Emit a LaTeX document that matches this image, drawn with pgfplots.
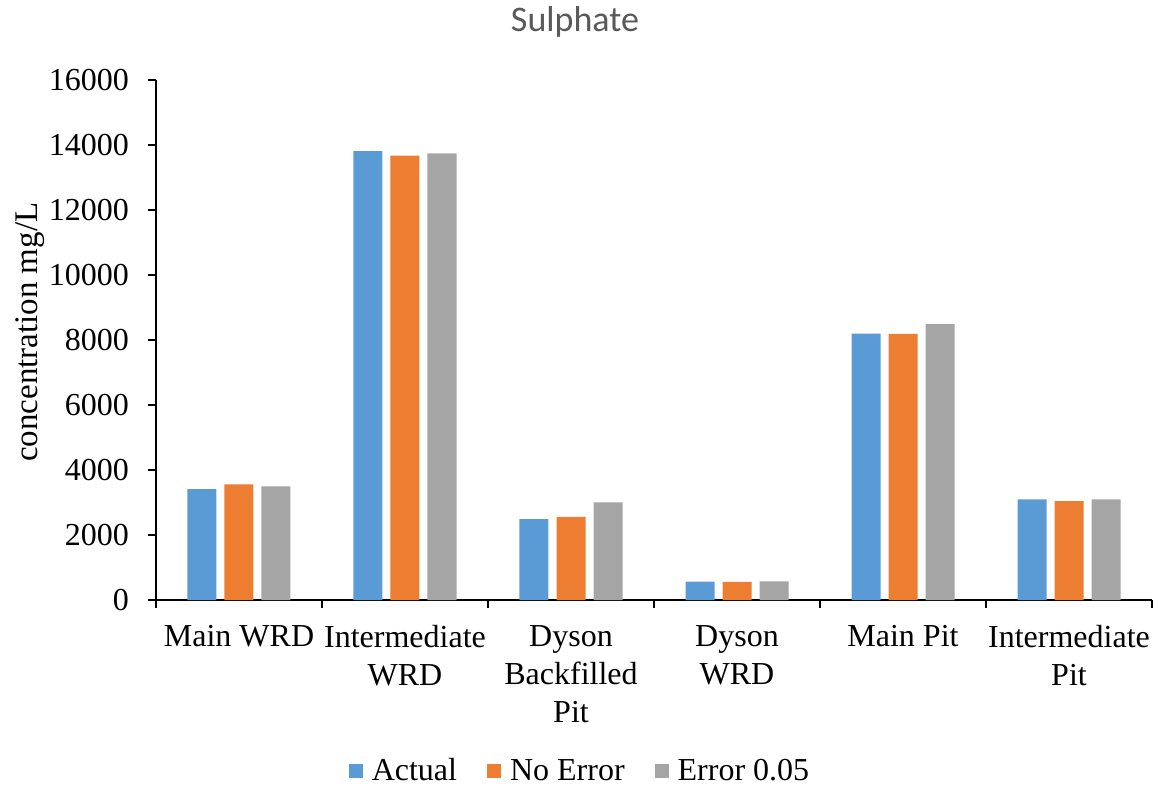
\documentclass[border=0pt]{standalone}
\usepackage{pgfplots}
\usepackage{pgfplotstable}
\pgfplotsset{compat=1.18}
\usepackage{fontspec}
\setmainfont{Liberation Serif}
\newfontfamily\titlefont{Carlito}

\definecolor{cActual}{HTML}{5B9BD5}
\definecolor{cNoErr}{HTML}{ED7D31}
\definecolor{cErr}{HTML}{A5A5A5}
\definecolor{cTitle}{HTML}{595959}

% Sulphate concentration (mg/L) per site
\pgfplotstableread{
x actual noerror err
0 3415 3560 3500
1 13815 13670 13745
2 2490 2555 3005
3 565 555 575
4 8195 8185 8490
5 3100 3045 3100
}\sulphate

\begin{document}
\begin{tikzpicture}
\useasboundingbox (-78pt,-94.5pt) rectangle (501.5pt,300pt);
\begin{axis}[
  at={(0,0)}, anchor=south west,
  scale only axis,
  width=498pt, height=260pt,
  clip=false,
  ybar=4pt, bar width=14.5pt,
  xmin=-0.5, xmax=5.5,
  ymin=0, ymax=16000,
  ytick distance=2000,
  scaled y ticks=false,
  axis x line=bottom, axis y line=left,
  axis line style={-, line width=0.9pt, black},
  tick style={line width=0.9pt, black},
  tick align=outside,
  major tick length=4pt,
  xtick={-0.5,0.5,1.5,2.5,3.5,4.5,5.5},
  x tick label as interval,
  xticklabels={Main WRD, {Intermediate\\WRD}, {Dyson\\Backfilled\\Pit}, {Dyson\\WRD}, Main Pit, {Intermediate\\Pit}},
  x tick label style={align=center, font=\fontsize{16}{19}\selectfont, anchor=north, yshift=-5pt},
  yticklabel style={/pgf/number format/1000 sep={}, font=\fontsize{16}{19}\selectfont, xshift=-6pt},
  /pgf/number format/assume math mode=true,
  ylabel={concentration mg/L},
  ylabel style={at={(axis description cs:-0.1265,0.515)}, anchor=center, font=\fontsize{16.5}{19}\selectfont},
  legend columns=3,
  legend style={at={(axis description cs:0.4267,-0.329)}, anchor=center, draw=none,
    font=\fontsize{16}{19}\selectfont,
    /tikz/every even column/.append style={column sep=13pt},
    inner sep=0pt},
  legend image code/.code={\fill[#1] (0pt,-3.5pt) rectangle (7pt,3.5pt);},
  legend cell align=left,
]
\addplot[fill=cActual, draw=none] table[x=x, y=actual] {\sulphate};
\addplot[fill=cNoErr, draw=none] table[x=x, y=noerror] {\sulphate};
\addplot[fill=cErr, draw=none] table[x=x, y=err] {\sulphate};
\legend{\hspace{2.5pt}Actual, \hspace{2.5pt}No Error, \hspace{2.5pt}Error 0.05}
% chart title
\node[anchor=center, text=cTitle, font=\titlefont\fontsize{18}{21}\selectfont]
  at (axis description cs:0.4207,1.111) {Sulphate};
\end{axis}
\end{tikzpicture}
\end{document}
